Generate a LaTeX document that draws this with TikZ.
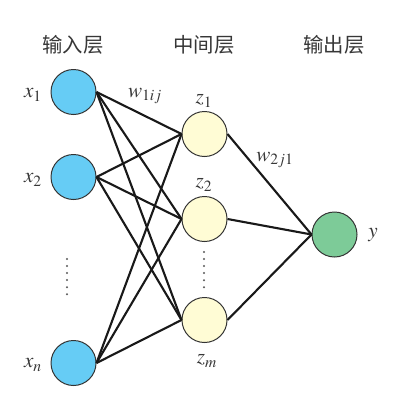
\documentclass[tikz,border=0pt]{standalone}
\usepackage{mathptmx}
\usepackage{fontspec}
\setmainfont{Liberation Serif}
\newfontfamily\cjk{Noto Sans CJK SC}
\usetikzlibrary{positioning}
\definecolor{inblue}{RGB}{102,204,245}
\definecolor{midyellow}{RGB}{255,252,213}
\definecolor{outgreen}{RGB}{125,203,152}
\definecolor{textgray}{RGB}{55,55,55}

\begin{document}
\begin{tikzpicture}[x=0.025cm, y=-0.025cm,
    neuron/.style={circle, draw=black!80, line width=0.7pt, minimum size=1.125cm, inner sep=0pt},
    link/.style={line width=1.5pt, black!90},
    title/.style={color=textgray, font=\cjk\fontsize{14.5}{16}\selectfont},
    lbl/.style={color=textgray, font=\fontsize{15}{17}\selectfont},
    vdots/.style={line width=1.6pt, color=black!65, line cap=round, dash pattern=on 0pt off 5pt}]
    \useasboundingbox (0, 0) rectangle (400, 414);
    % Titles
    \node[title] (tin) at (73, 45) {输入层};
    \node[title] (tmid) at (204, 45) {中间层};
    \node[title] (tout) at (334, 45) {输出层};
    % Input layer
    \node[neuron, fill=inblue] (x1) at (73.5, 92) {};
    \node[neuron, fill=inblue] (x2) at (73.5, 177) {};
    \node[neuron, fill=inblue] (xn) at (73.5, 363) {};
    \node[lbl] at (33, 95) {$x_1$};
    \node[lbl] at (33, 180) {$x_2$};
    \node[lbl] at (33, 365) {$x_n$};
    \draw[vdots] (67, 259) -- ++(0, 36);
    % Hidden layer
    \node[neuron, fill=midyellow] (z1) at (204.5, 134) {};
    \node[neuron, fill=midyellow] (z2) at (204.5, 219) {};
    \node[neuron, fill=midyellow] (zm) at (204.5, 320) {};
    \node[lbl] at (204, 101) {$z_1$};
    \node[lbl] at (204, 185) {$z_2$};
    \node[lbl] at (207, 361) {$z_m$};
    \draw[vdots] (204, 252) -- ++(0, 36);
    % Output layer
    \node[neuron, fill=outgreen] (y) at (334.5, 234.5) {};
    \node[lbl] at (373, 235) {$y$};
    % Weights
    \node[lbl] at (145, 96) {$w_{1ij}$};
    \node[lbl] at (275, 160) {$w_{2j1}$};
    % Input to hidden links
    \draw[link] (x1.east) -- (z1.west);
    \draw[link] (x1.east) -- (z2.west);
    \draw[link] (x1.east) -- (zm.west);
    \draw[link] (x2.east) -- (z1.west);
    \draw[link] (x2.east) -- (z2.west);
    \draw[link] (x2.east) -- (zm.west);
    \draw[link] (xn.east) -- (z1.west);
    \draw[link] (xn.east) -- (z2.west);
    \draw[link] (xn.east) -- (zm.west);
    % Hidden to output links
    \draw[link] (z1.east) -- (y.west);
    \draw[link] (z2.east) -- (y.west);
    \draw[link] (zm.east) -- (y.west);
\end{tikzpicture}
\end{document}
